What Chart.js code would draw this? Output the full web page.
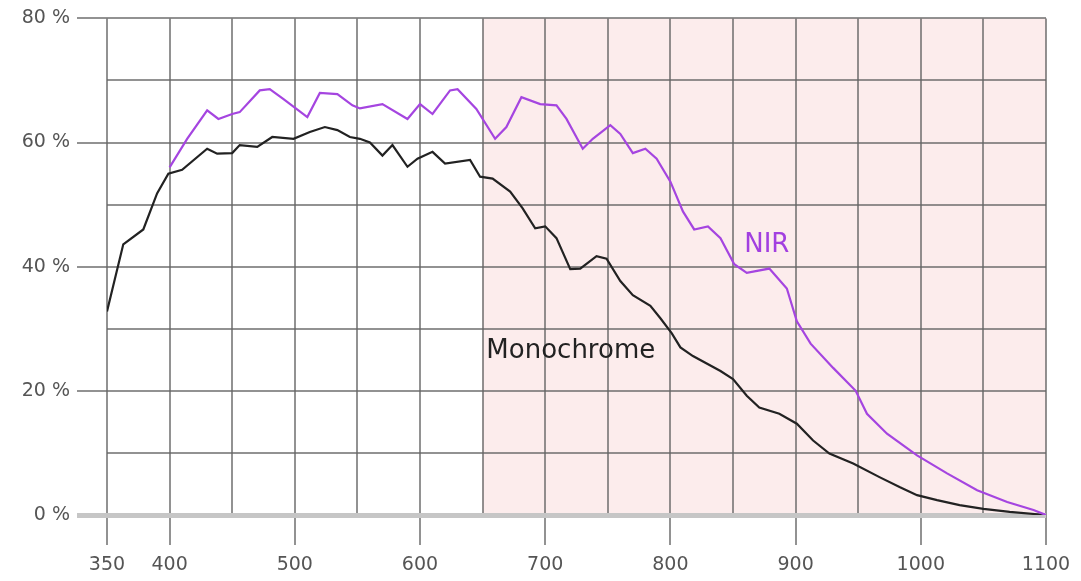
<!DOCTYPE html>
<html lang="en">
<head>
  <meta charset="UTF-8">
  <title>Quantum efficiency</title>
  <script src="https://cdn.jsdelivr.net/npm/chart.js"></script>
  <style>
    html, body { margin: 0; padding: 0; background: #fff; }
    .chart-box { width: 1081px; height: 581px; }
  </style>
</head>
<body>
  <div class="chart-box">
    <canvas id="qeChart"></canvas>
  </div>

  <script>
    // wavelength (nm) and efficiency (%)
    var monoNm  = [350, 363, 379, 390, 399, 410, 430, 438, 450, 456, 470, 482, 499, 512, 524, 534, 544, 552, 560, 570,
                   578, 590, 598, 610, 620, 640, 648, 658, 672, 682, 692, 700, 709, 720, 728, 741, 749, 760, 770, 784,
                   792, 801, 808, 818, 840, 850, 861, 871, 887, 901, 914, 927, 946, 967, 983, 997, 1013, 1031, 1050, 1071, 1100];
    var monoPct = [32.8, 43.6, 46, 51.8, 55, 55.6, 59, 58.2, 58.3, 59.6, 59.3, 60.9, 60.6, 61.7, 62.5, 62, 60.9, 60.6, 60, 57.9,
                   59.6, 56.1, 57.4, 58.5, 56.6, 57.2, 54.5, 54.2, 52.1, 49.4, 46.2, 46.5, 44.6, 39.6, 39.7, 41.7, 41.3, 37.7, 35.4, 33.7,
                   31.7, 29.3, 27, 25.6, 23.2, 21.9, 19.2, 17.3, 16.3, 14.7, 12, 9.9, 8.3, 6.1, 4.5, 3.2, 2.4, 1.6, 1, 0.5, 0];

    var nirNm  = [400, 414, 430, 439, 450, 456, 472, 480, 491, 510, 520, 534, 546, 552, 570, 590, 600, 610, 624, 630,
                  645, 660, 669, 681, 696, 709, 717, 730, 738, 752, 760, 770, 780, 789, 800, 810, 819, 830, 840, 851,
                  861, 879, 893, 901, 912, 930, 948, 957, 973, 997, 1021, 1045, 1069, 1090, 1100];
    var nirPct = [56, 60.6, 65.2, 63.8, 64.6, 64.9, 68.4, 68.6, 67, 64.1, 68, 67.8, 66, 65.5, 66.2, 63.8, 66.2, 64.6, 68.4, 68.6,
                  65.4, 60.6, 62.5, 67.3, 66.2, 66, 63.8, 59, 60.6, 62.8, 61.4, 58.3, 59, 57.4, 53.7, 48.9, 46, 46.5, 44.6, 40.4,
                  39, 39.7, 36.5, 31.2, 27.6, 23.7, 20, 16.3, 13.1, 9.6, 6.7, 4, 2.1, 0.8, 0];

    var xLabels = [350, 400, 500, 600, 700, 800, 900, 1000, 1100];
    var yLabels = [0, 20, 40, 60, 80];

    var nirBand = [650, 1100];  // shaded NIR range
    var seriesLabels = [
      { text: 'NIR', x: 877, y: 43.5, color: '#a23fe0' },
      { text: 'Monochrome', x: 653, y: 26.3, color: '#222222' }
    ];

    function toPoints(xs, ys) {
      return xs.map(function (x, i) { return { x: x, y: ys[i] }; });
    }

    // pink band behind the grid + the inline series names
    var decorPlugin = {
      id: 'decor',
      beforeDraw: function (chart) {
        var ctx = chart.ctx, xs = chart.scales.x, a = chart.chartArea;
        ctx.save();
        ctx.fillStyle = '#fcecec';
        var x0 = xs.getPixelForValue(nirBand[0]);
        var x1 = xs.getPixelForValue(nirBand[1]);
        ctx.fillRect(x0, a.top, x1 - x0, a.bottom - a.top);
        ctx.restore();
      },
      afterDatasetsDraw: function (chart) {
        var ctx = chart.ctx, xs = chart.scales.x, ys = chart.scales.y;
        ctx.save();
        ctx.font = '26px "DejaVu Sans", sans-serif';
        ctx.textAlign = 'left';
        ctx.textBaseline = 'middle';
        seriesLabels.forEach(function (l) {
          ctx.fillStyle = l.color;
          var px = xs.getPixelForValue(l.x);
          if (l.text === 'NIR') {
            px -= ctx.measureText(l.text).width / 2;
          }
          ctx.fillText(l.text, px, ys.getPixelForValue(l.y));
        });
        ctx.restore();
      }
    };

    var gridColor = 'rgba(100,100,100,0.7)';
    var tickFont = { family: '"DejaVu Sans", sans-serif', size: 19 };

    var ctx = document.getElementById('qeChart').getContext('2d');
    var qeChart = new Chart(ctx, {
      type: 'line',
      data: {
        datasets: [
          {
            label: 'NIR',
            data: toPoints(nirNm, nirPct),
            borderColor: '#a545e0',
            borderWidth: 2.2,
            pointRadius: 0,
            tension: 0,
            fill: false
          },
          {
            label: 'Monochrome',
            data: toPoints(monoNm, monoPct),
            borderColor: '#222222',
            borderWidth: 2.2,
            pointRadius: 0,
            tension: 0,
            fill: false
          }
        ]
      },
      options: {
        responsive: true,
        maintainAspectRatio: false,
        animation: false,
        layout: { padding: { top: 16, right: 35, left: 0, bottom: 0 } },
        plugins: {
          legend: { display: false },
          tooltip: { enabled: false }
        },
        scales: {
          x: {
            type: 'linear',
            min: 350,
            max: 1100,
            border: { display: false },
            afterFit: function (scale) { scale.height = 66; },
            grid: {
              color: gridColor,
              lineWidth: 2,
              tickLength: 30,
              tickColor: function (c) {
                return xLabels.indexOf(c.tick.value) >= 0 ? gridColor : 'rgba(0,0,0,0)';
              }
            },
            ticks: {
              stepSize: 50,
              maxRotation: 0,
              autoSkip: false,
              padding: 9,
              color: '#555',
              font: tickFont,
              callback: function (v) { return xLabels.indexOf(v) >= 0 ? String(v) : ''; }
            }
          },
          y: {
            min: 0,
            max: 80,
            border: { display: false },
            afterFit: function (scale) { scale.width = 107; },
            grid: {
              color: function (c) { return c.tick.value === 0 ? '#c6c6c6' : gridColor; },
              lineWidth: function (c) { return c.tick.value === 0 ? 5 : 2; },
              tickLength: 30,
              tickColor: function (c) {
                if (c.tick.value === 0) return '#c6c6c6';
                return yLabels.indexOf(c.tick.value) >= 0 ? gridColor : 'rgba(0,0,0,0)';
              }
            },
            ticks: {
              stepSize: 10,
              padding: 7,
              color: '#555',
              font: tickFont,
              callback: function (v) { return yLabels.indexOf(v) >= 0 ? v + ' %' : ''; }
            }
          }
        }
      },
      plugins: [decorPlugin]
    });
  </script>
</body>
</html>
